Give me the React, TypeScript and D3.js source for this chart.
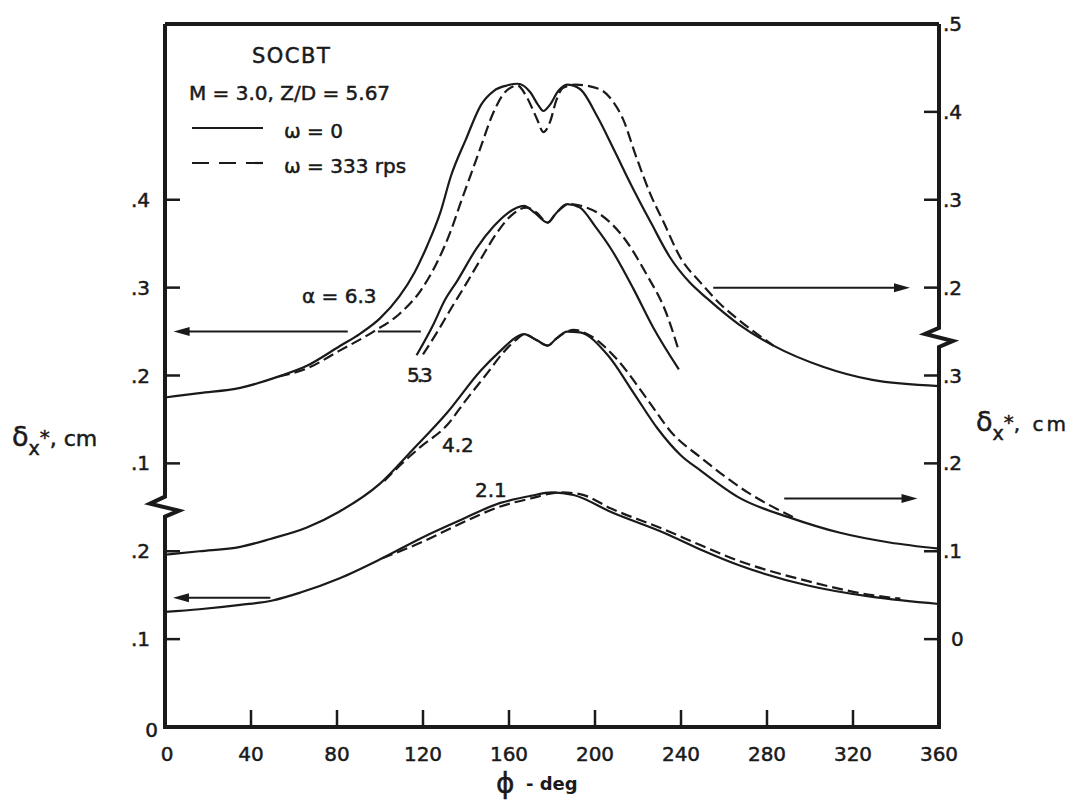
import React from 'react';
import * as d3 from 'd3';

// phi (deg) vs displacement thickness (cm).
// a = 6.3 -> right axis, upper part
const alpha63Solid = [[0,.075],[16,.080],[35,.086],[53,.099],[66,.111],[81,.133],[91,.148],[100,.165],[109,.190],[116,.217],[122,.248],[128,.285],[133,.327],[140,.369],[147,.408],[153,.424],[159,.430],[164,.432],[170,.422],[173.5,.408],[176,.401],[179,.408],[183,.424],[187,.431],[193,.426],[201,.395],[209,.356],[217,.316],[226,.274],[235,.234],[244,.206],[252,.188],[267,.158],[283,.134],[306,.110],[329,.095],[360,.088]];
const alpha63Dash = [[53,.099],[66,.108],[81,.128],[97,.150],[109,.170],[119,.197],[127,.231],[133,.265],[137,.293],[142,.327],[147,.361],[152,.395],[158,.422],[164,.430],[168,.418],[173,.392],[176,.377],[179,.388],[182,.413],[185,.427],[191,.431],[202,.426],[208,.413],[213,.392],[219,.350],[226,.305],[232,.274],[240,.233],[249,.206],[258,.182],[267,.163],[283,.134]];
// a = 5.3 -> left axis, upper part
const alpha53Solid = [[117,.223],[125,.259],[130,.285],[136,.308],[145,.345],[153,.370],[159,.384],[167,.393],[172,.385],[178,.374],[182,.385],[187,.395],[193,.391],[200,.370],[208,.342],[218,.298],[227,.255],[239,.207]];
const alpha53Dash = [[120,.224],[127,.251],[133,.276],[139,.300],[147,.333],[154,.361],[161,.382],[168,.391],[173,.385],[178,.374],[182,.385],[188,.395],[195,.392],[202,.384],[213,.358],[224,.315],[233,.272],[239,.228]];
// a = 4.2 -> right axis, lower part
const alpha42Solid = [[0,.096],[16,.100],[35,.105],[49,.114],[66,.127],[81,.145],[100,.177],[115,.215],[131,.257],[147,.306],[156,.328],[163,.343],[167,.347],[173,.340],[178,.334],[182,.342],[187,.350],[193,.349],[206,.323],[218,.280],[229,.240],[240,.209],[249,.192],[267,.161],[291,.138],[314,.121],[337,.110],[360,.103]];
const alpha42Dash = [[102,.180],[109,.197],[119,.219],[131,.243],[140,.272],[150,.303],[158,.328],[164,.342],[167,.347],[173,.340],[178,.334],[182,.342],[187,.350],[190,.352],[198,.345],[210,.319],[224,.274],[236,.234],[249,.207],[271,.167],[292,.139]];
// a = 2.1 -> left axis, lower part
const alpha21Solid = [[0,.131],[16,.134],[35,.139],[50,.144],[63,.153],[81,.169],[101,.192],[120,.216],[137,.235],[156,.255],[170,.263],[180,.267],[190,.264],[208,.244],[232,.221],[249,.202],[267,.184],[299,.161],[329,.148],[360,.140]];
const alpha21Dash = [[101,.192],[120,.211],[137,.231],[156,.251],[170,.260],[184,.267],[193,.265],[208,.248],[232,.225],[249,.207],[267,.189],[299,.166],[329,.150],[342,.146]];

const phiTicks = [0, 40, 80, 120, 160, 200, 240, 280, 320, 360];
const leftLowerTicks = [0, .1, .2];
const leftUpperTicks = [.1, .2, .3, .4];
const rightLowerTicks = [0, .1, .2, .3];
const rightUpperTicks = [.2, .3, .4, .5];

const ink = '#1a1a1a';
const font = '"DejaVu Sans", sans-serif';

export default function App() {
    let svgWidth = 1081, svgHeight = 809;
    let top = 24, bottom = 727;

    let x = d3.scaleLinear().domain([0, 360]).range([165, 939]);
    // one frame, four offset scales (broken axes)
    let yLL = d3.scaleLinear().domain([0, 0.8]).range([bottom, top]);
    let yLU = d3.scaleLinear().domain([-0.2, 0.6]).range([bottom, top]);
    let yRL = d3.scaleLinear().domain([-0.1, 0.7]).range([bottom, top]);
    let yRU = d3.scaleLinear().domain([-0.3, 0.5]).range([bottom, top]);

    const line = (y: any) => d3.line<number[]>()
        .x(d => x(d[0]))
        .y(d => y(d[1]))
        .curve(d3.curveMonotoneX);

    const fmt = (v: number) => v === 0 ? '0' : d3.format('.1f')(v).replace(/^0/, '');

    let x0 = x(0), x1 = x(360);
    let lb = yLL(0.253), rb = yRL(0.345);
    let leftFrame = `M${x0},${top} V${lb - 8} L${x0 - 15},${lb - 1} L${x0 + 14},${lb + 6} L${x0},${lb + 12} V${bottom}`;
    let rightFrame = `M${x1},${top} V${rb - 8} L${x1 - 14},${rb - 2} L${x1 + 14},${rb + 5} L${x1},${rb + 11} V${bottom}`;

    const arrowHead = (tx: number, ty: number, dir: number) =>
        `M${tx},${ty} L${tx - dir * 16},${ty - 4.5} L${tx - dir * 16},${ty + 4.5} Z`;

    let curves = [
        { d: alpha63Solid, y: yRU, dash: false },
        { d: alpha63Dash, y: yRU, dash: true },
        { d: alpha53Solid, y: yLU, dash: false },
        { d: alpha53Dash, y: yLU, dash: true },
        { d: alpha42Solid, y: yRL, dash: false },
        { d: alpha42Dash, y: yRL, dash: true },
        { d: alpha21Solid, y: yLL, dash: false },
        { d: alpha21Dash, y: yLL, dash: true },
    ];

    // thicken glyphs a little, the scan is heavy
    let heavy = { stroke: ink, strokeWidth: 0.5 };

    return (
        <svg width={svgWidth} height={svgHeight}
            style={{ position: 'absolute', left: 0, top: 0, background: '#fff' }}
            fontFamily={font} fill={ink}>
            <rect width={svgWidth} height={svgHeight} fill="#fff" />

            {/* curves */}
            <g fill="none" stroke={ink} strokeWidth={2.2}>
                {curves.map((c, i) => (
                    <path key={i} d={line(c.y)(c.d) || ''}
                        strokeDasharray={c.dash ? '11,5' : undefined} />
                ))}
            </g>

            {/* frame */}
            <g fill="none" stroke={ink} strokeWidth={4} strokeLinejoin="miter">
                <line x1={x0} y1={top} x2={x1} y2={top} />
                <line x1={x0 - 2} y1={bottom} x2={x1 + 2} y2={bottom} />
                <path d={leftFrame} />
                <path d={rightFrame} />
            </g>

            {/* ticks */}
            <g stroke={ink} strokeWidth={2.5}>
                {phiTicks.slice(1, -1).map(t => (
                    <line key={'x' + t} x1={x(t)} x2={x(t)} y1={bottom} y2={bottom - 17} />
                ))}
                {leftLowerTicks.slice(1).map(t => (
                    <line key={'ll' + t} x1={x0} x2={x0 + 15} y1={yLL(t)} y2={yLL(t)} />
                ))}
                {leftUpperTicks.map(t => (
                    <line key={'lu' + t} x1={x0} x2={x0 + 15} y1={yLU(t)} y2={yLU(t)} />
                ))}
                {rightLowerTicks.map(t => (
                    <line key={'rl' + t} x1={x1 - 15} x2={x1} y1={yRL(t)} y2={yRL(t)} />
                ))}
                {rightUpperTicks.slice(0, -1).map(t => (
                    <line key={'ru' + t} x1={x1 - 15} x2={x1} y1={yRU(t)} y2={yRU(t)} />
                ))}
            </g>

            {/* tick labels */}
            <g fontSize={20} {...heavy}>
                {phiTicks.map(t => (
                    <text key={'xl' + t} x={x(t) + (t === 0 ? 2 : 0)} y={761} textAnchor="middle">{t}</text>
                ))}
                {leftLowerTicks.map(t => (
                    <text key={'lll' + t} x={t === 0 ? 158 : 150} y={yLL(t) + (t === 0 ? 10 : 7)} textAnchor="end">{fmt(t)}</text>
                ))}
                {leftUpperTicks.map(t => (
                    <text key={'lul' + t} x={150} y={yLU(t) + 7} textAnchor="end">{fmt(t)}</text>
                ))}
                {rightLowerTicks.map(t => (
                    <text key={'rll' + t} x={t === 0 ? 951 : 943} y={yRL(t) + 7}>{fmt(t)}</text>
                ))}
                {rightUpperTicks.map(t => (
                    <text key={'rul' + t} x={943} y={yRU(t) + 7}>{fmt(t)}</text>
                ))}
            </g>

            {/* axis titles */}
            <text x={12} y={446} fontSize={27} {...heavy}>δ
                <tspan fontSize={19} dy={9}>x</tspan>
                <tspan fontSize={20} dy={-11}>*</tspan>
                <tspan fontSize={22} dy={2}>, cm</tspan>
            </text>
            <text x={976} y={431} fontSize={27} {...heavy}>δ
                <tspan fontSize={19} dy={9}>x</tspan>
                <tspan fontSize={20} dy={-11}>*</tspan>
                <tspan fontSize={20} dy={2} letterSpacing={3}>, cm</tspan>
            </text>
            <text x={496} y={793} fontSize={28} {...heavy}>ϕ</text>
            <text x={526} y={790} fontSize={18} fontWeight="bold">- deg</text>

            {/* legend */}
            <g fontSize={20} {...heavy}>
                <text x={252} y={63} fontSize={21} letterSpacing={1.5}>SOCBT</text>
                <text x={189} y={100}>M = 3.0, Z/D = 5.67</text>
                <text x={284} y={138}>ω = 0</text>
                <text x={284} y={173}>ω = 333 rps</text>
            </g>
            <line x1={192} x2={263} y1={128} y2={128} stroke={ink} strokeWidth={2.2} />
            <line x1={192} x2={263} y1={163} y2={163} stroke={ink} strokeWidth={2.2} strokeDasharray="17,10" />

            {/* curve labels */}
            <g fontSize={20} {...heavy}>
                <text x={302} y={303}>α = 6.3</text>
                <text x={407} y={382} letterSpacing={-3}>5.3</text>
                <text x={442} y={452}>4.2</text>
                <text x={475} y={497}>2.1</text>
            </g>

            {/* arrows pointing to the axis each curve is read on */}
            <g stroke={ink} strokeWidth={2}>
                <line x1={x(4) + 12} x2={x(85)} y1={yLU(0.25)} y2={yLU(0.25)} />
                <line x1={x(99)} x2={x(119)} y1={yLU(0.25)} y2={yLU(0.25)} />
                <line x1={x(255)} x2={x(346.5) - 12} y1={yRU(0.2)} y2={yRU(0.2)} />
                <line x1={x(288)} x2={x(350) - 12} y1={yRL(0.16)} y2={yRL(0.16)} />
                <line x1={x(3.7) + 12} x2={x(49)} y1={yLL(0.147)} y2={yLL(0.147)} />
            </g>
            <g stroke="none" fill={ink}>
                <path d={arrowHead(x(4), yLU(0.25), -1)} />
                <path d={arrowHead(x(346.5), yRU(0.2), 1)} />
                <path d={arrowHead(x(350), yRL(0.16), 1)} />
                <path d={arrowHead(x(3.7), yLL(0.147), -1)} />
            </g>
        </svg>
    );
}
